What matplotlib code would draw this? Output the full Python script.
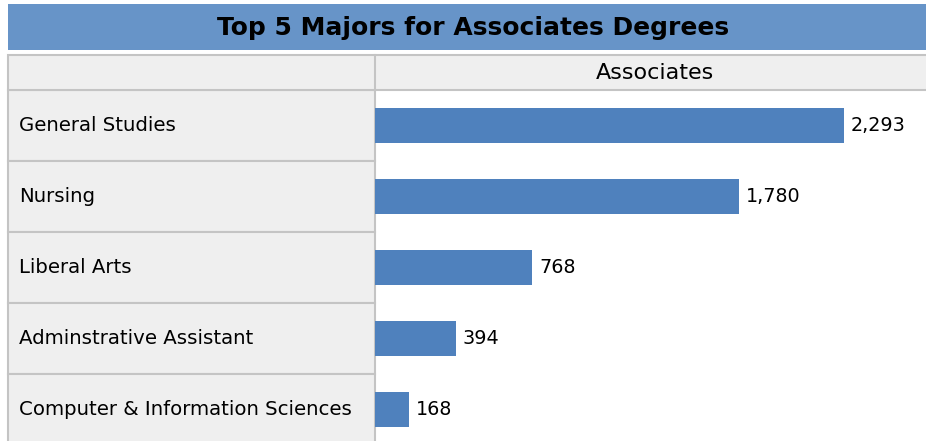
import matplotlib
matplotlib.use("Agg")
import matplotlib.pyplot as plt
from matplotlib.patches import Rectangle

title = "Top 5 Majors for Associates Degrees"
series_name = "Associates"
categories = ["General Studies", "Nursing", "Liberal Arts",
              "Adminstrative Assistant", "Computer & Information Sciences"]
values = [2293, 1780, 768, 394, 168]

W, H = 926, 441
fig = plt.figure(figsize=(W / 100, H / 100), dpi=100)
fig.patch.set_facecolor("white")

def fx(px):
    return px / W

def fy(py):
    return 1 - py / H

border = "#c4c4c4"
cellbg = "#efefef"
bar_color = "#4f81bd"

# title bar
fig.patches.append(Rectangle((fx(8), fy(50)), fx(918), 46 / H, transform=fig.transFigure,
                             facecolor="#6794c8", edgecolor="none"))
fig.text(fx(473), fy(28), title, ha="center", va="center", fontsize=18,
         fontweight="bold", color="black", family="DejaVu Sans")

# header row
fig.patches.append(Rectangle((fx(8), fy(90)), fx(920), 35 / H, transform=fig.transFigure,
                             facecolor=cellbg, edgecolor=border, linewidth=1.5))
fig.add_artist(plt.Line2D([fx(375), fx(375)], [fy(90), fy(55)], transform=fig.transFigure,
                          color=border, linewidth=1.5))
fig.text(fx(655), fy(73), series_name, ha="center", va="center", fontsize=16,
         color="black", family="DejaVu Sans")

n = len(categories)
ytop_px, ybot_px = 90, 445

# left label column
axl = fig.add_axes([fx(8), fy(ybot_px), fx(375 - 8), (ybot_px - ytop_px) / H])
axl.set_xlim(0, 1)
axl.set_ylim(n - 0.5, -0.5)
axl.axis("off")
for i, cat in enumerate(categories):
    axl.add_patch(Rectangle((0, i - 0.5), 1, 1, facecolor=cellbg, edgecolor=border,
                            linewidth=1.5, clip_on=False))
    axl.text(11 / 367, i, cat, ha="left", va="center", fontsize=14.2, color="black",
             family="DejaVu Sans")

# bar area
axb = fig.add_axes([fx(375), fy(ybot_px), fx(W - 375), (ybot_px - ytop_px) / H])
scale = 469 / 2293
axb.set_xlim(0, (W - 375) / scale)
axb.set_ylim(n - 0.5, -0.5)
axb.axis("off")
ypos = list(range(n))
axb.barh(ypos, values, height=0.49, color=bar_color)
for y, v in zip(ypos, values):
    axb.text(v + 7 / scale, y, f"{v:,}", ha="left", va="center", fontsize=13.8,
             color="black", family="DejaVu Sans")

fig.savefig("out.png", dpi=100)
